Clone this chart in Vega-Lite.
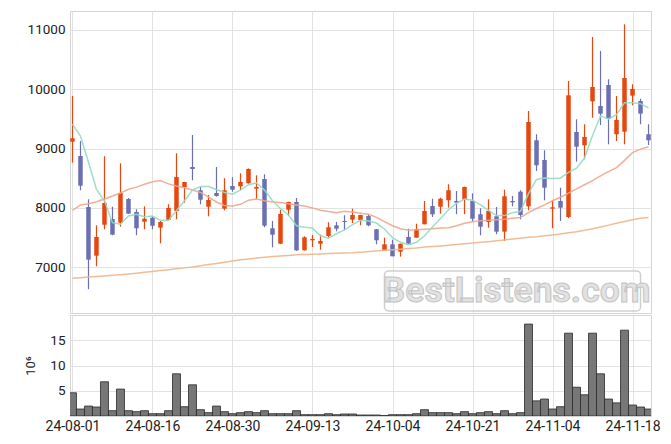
{
  "$schema": "https://vega.github.io/schema/vega-lite/v6.json",
  "background": "white",
  "padding": {"left": 24, "top": 10, "right": 17, "bottom": 0},
  "config": {
    "font": "Roboto",
    "view": {"stroke": "#d4d4d4"},
    "axis": {"labelFont": "Roboto", "labelColor": "#222222", "gridColor": "#e2e2e2", "domain": false, "ticks": false, "titleFont": "Roboto"},
    "concat": {"spacing": 0}
  },
  "datasets": {
    "wm": [{"t": "BestListens.com"}],
    "k": [
      {"d":"24-08-01","o":9115,"h":9885,"l":8762,"c":9172,"v":4.6,"m5":9408,"m20":7960,"m60":6815},
      {"d":"24-08-02","o":8874,"h":9127,"l":8297,"c":8374,"v":1.38,"m5":9211,"m20":8049,"m60":6825},
      {"d":"24-08-05","o":8015,"h":8145,"l":6630,"c":7128,"v":1.97,"m5":8770,"m20":8070,"m60":6835},
      {"d":"24-08-06","o":7195,"h":7707,"l":7017,"c":7510,"v":1.78,"m5":8313,"m20":8105,"m60":6845},
      {"d":"24-08-07","o":7717,"h":8869,"l":7640,"c":8083,"v":6.78,"m5":8120,"m20":8150,"m60":6855},
      {"d":"24-08-08","o":7813,"h":8020,"l":7540,"c":7549,"v":1.05,"m5":7751,"m20":8201,"m60":6865},
      {"d":"24-08-09","o":7751,"h":8751,"l":7684,"c":8251,"v":5.33,"m5":7724,"m20":8250,"m60":6875},
      {"d":"24-08-12","o":8150,"h":8167,"l":7900,"c":7903,"v":1.05,"m5":7864,"m20":8313,"m60":6885},
      {"d":"24-08-13","o":7931,"h":7977,"l":7539,"c":7657,"v":0.86,"m5":7892,"m20":8350,"m60":6900},
      {"d":"24-08-14","o":7768,"h":8027,"l":7640,"c":7818,"v":1.05,"m5":7850,"m20":8398,"m60":6915},
      {"d":"24-08-16","o":7835,"h":7863,"l":7640,"c":7700,"v":0.46,"m5":7864,"m20":8440,"m60":6930},
      {"d":"24-08-19","o":7667,"h":7780,"l":7404,"c":7763,"v":0.46,"m5":7791,"m20":8460,"m60":6945},
      {"d":"24-08-20","o":7797,"h":8061,"l":7790,"c":7999,"v":1.05,"m5":7790,"m20":8405,"m60":6960},
      {"d":"24-08-21","o":7948,"h":8920,"l":7808,"c":8521,"v":8.36,"m5":7955,"m20":8370,"m60":6975},
      {"d":"24-08-22","o":8352,"h":8440,"l":8088,"c":8436,"v":1.84,"m5":8120,"m20":8340,"m60":6990},
      {"d":"24-08-23","o":8689,"h":9228,"l":8465,"c":8655,"v":6.18,"m5":8300,"m20":8300,"m60":7005},
      {"d":"24-08-26","o":8297,"h":8352,"l":8061,"c":8138,"v":1.25,"m5":8360,"m20":8260,"m60":7025},
      {"d":"24-08-27","o":8020,"h":8218,"l":7859,"c":8133,"v":0.66,"m5":8360,"m20":8180,"m60":7045},
      {"d":"24-08-28","o":8251,"h":8689,"l":8190,"c":8201,"v":1.97,"m5":8310,"m20":8100,"m60":7065},
      {"d":"24-08-29","o":7987,"h":8499,"l":7960,"c":8297,"v":0.86,"m5":8260,"m20":8040,"m60":7085},
      {"d":"24-08-30","o":8369,"h":8516,"l":8273,"c":8307,"v":0.46,"m5":8230,"m20":8032,"m60":7105},
      {"d":"24-09-02","o":8364,"h":8583,"l":8297,"c":8436,"v":0.66,"m5":8300,"m20":8060,"m60":7125},
      {"d":"24-09-03","o":8415,"h":8665,"l":8410,"c":8655,"v":0.86,"m5":8390,"m20":8130,"m60":7140},
      {"d":"24-09-04","o":8324,"h":8549,"l":8155,"c":8352,"v":0.66,"m5":8420,"m20":8150,"m60":7155},
      {"d":"24-09-05","o":8487,"h":8566,"l":7674,"c":7701,"v":1.05,"m5":8300,"m20":8120,"m60":7170},
      {"d":"24-09-06","o":7657,"h":7780,"l":7337,"c":7549,"v":0.46,"m5":8120,"m20":8100,"m60":7180},
      {"d":"24-09-09","o":7397,"h":7970,"l":7390,"c":7898,"v":0.46,"m5":7990,"m20":8090,"m60":7190},
      {"d":"24-09-10","o":7970,"h":8105,"l":7864,"c":8100,"v":0.46,"m5":7880,"m20":8070,"m60":7200},
      {"d":"24-09-11","o":8100,"h":8167,"l":7275,"c":7286,"v":1.05,"m5":7700,"m20":8050,"m60":7210},
      {"d":"24-09-12","o":7286,"h":7522,"l":7280,"c":7505,"v":0.26,"m5":7675,"m20":8032,"m60":7215},
      {"d":"24-09-13","o":7455,"h":7544,"l":7342,"c":7477,"v":0.26,"m5":7660,"m20":8000,"m60":7220},
      {"d":"24-09-19","o":7397,"h":7549,"l":7296,"c":7443,"v":0.26,"m5":7530,"m20":7960,"m60":7225},
      {"d":"24-09-20","o":7527,"h":7758,"l":7499,"c":7674,"v":0.46,"m5":7490,"m20":7940,"m60":7230},
      {"d":"24-09-23","o":7707,"h":7764,"l":7606,"c":7650,"v":0.26,"m5":7565,"m20":7920,"m60":7236},
      {"d":"24-09-24","o":7780,"h":7876,"l":7623,"c":7763,"v":0.4,"m5":7630,"m20":7945,"m60":7240},
      {"d":"24-09-25","o":7802,"h":7987,"l":7746,"c":7881,"v":0.4,"m5":7720,"m20":7930,"m60":7245},
      {"d":"24-09-26","o":7797,"h":7885,"l":7707,"c":7881,"v":0.2,"m5":7790,"m20":7910,"m60":7255},
      {"d":"24-09-27","o":7864,"h":7892,"l":7690,"c":7707,"v":0.2,"m5":7780,"m20":7892,"m60":7265},
      {"d":"24-09-30","o":7640,"h":7645,"l":7387,"c":7455,"v":0.2,"m5":7745,"m20":7840,"m60":7275},
      {"d":"24-10-02","o":7280,"h":7499,"l":7275,"c":7387,"v":0.1,"m5":7640,"m20":7770,"m60":7285},
      {"d":"24-10-04","o":7387,"h":7465,"l":7185,"c":7185,"v":0.26,"m5":7500,"m20":7700,"m60":7295},
      {"d":"24-10-07","o":7263,"h":7397,"l":7180,"c":7397,"v":0.26,"m5":7420,"m20":7650,"m60":7305},
      {"d":"24-10-08","o":7510,"h":7650,"l":7397,"c":7397,"v":0.26,"m5":7380,"m20":7623,"m60":7315},
      {"d":"24-10-10","o":7499,"h":7734,"l":7499,"c":7640,"v":0.46,"m5":7420,"m20":7630,"m60":7325},
      {"d":"24-10-11","o":7724,"h":8116,"l":7724,"c":7948,"v":1.25,"m5":7530,"m20":7640,"m60":7340},
      {"d":"24-10-14","o":8032,"h":8155,"l":7847,"c":7892,"v":0.66,"m5":7680,"m20":7650,"m60":7350},
      {"d":"24-10-15","o":8020,"h":8172,"l":7903,"c":8155,"v":0.66,"m5":7820,"m20":7660,"m60":7360},
      {"d":"24-10-16","o":8128,"h":8398,"l":8004,"c":8297,"v":0.66,"m5":7970,"m20":7667,"m60":7372},
      {"d":"24-10-17","o":8116,"h":8285,"l":7893,"c":8088,"v":0.46,"m5":8075,"m20":7700,"m60":7385},
      {"d":"24-10-18","o":8138,"h":8360,"l":7893,"c":8352,"v":0.86,"m5":8150,"m20":7740,"m60":7398},
      {"d":"24-10-21","o":8116,"h":8246,"l":7780,"c":7818,"v":0.46,"m5":8130,"m20":7765,"m60":7410},
      {"d":"24-10-22","o":7893,"h":7994,"l":7539,"c":7684,"v":0.66,"m5":8050,"m20":7785,"m60":7420},
      {"d":"24-10-23","o":7763,"h":8145,"l":7667,"c":7948,"v":0.86,"m5":7960,"m20":7791,"m60":7431},
      {"d":"24-10-24","o":7859,"h":8015,"l":7556,"c":7600,"v":0.46,"m5":7870,"m20":7800,"m60":7445},
      {"d":"24-10-25","o":7600,"h":8307,"l":7443,"c":8196,"v":1.05,"m5":7870,"m20":7810,"m60":7460},
      {"d":"24-10-28","o":8116,"h":8201,"l":8027,"c":8094,"v":0.46,"m5":7920,"m20":7825,"m60":7475},
      {"d":"24-10-29","o":8273,"h":8297,"l":7808,"c":7881,"v":0.66,"m5":7944,"m20":7840,"m60":7490},
      {"d":"24-10-30","o":8027,"h":9632,"l":7960,"c":9447,"v":18.2,"m5":8240,"m20":7920,"m60":7505},
      {"d":"24-10-31","o":9139,"h":9240,"l":8622,"c":8718,"v":3.0,"m5":8480,"m20":7990,"m60":7515},
      {"d":"24-11-01","o":8807,"h":8970,"l":8128,"c":8340,"v":3.36,"m5":8505,"m20":8050,"m60":7530},
      {"d":"24-11-04","o":7987,"h":8128,"l":7657,"c":8010,"v":1.38,"m5":8495,"m20":8120,"m60":7544},
      {"d":"24-11-05","o":8116,"h":8340,"l":7780,"c":8004,"v":1.84,"m5":8505,"m20":8180,"m60":7560},
      {"d":"24-11-06","o":7847,"h":10137,"l":7825,"c":9896,"v":16.4,"m5":8600,"m20":8250,"m60":7580},
      {"d":"24-11-07","o":9278,"h":9492,"l":8778,"c":9031,"v":5.7,"m5":8670,"m20":8320,"m60":7600},
      {"d":"24-11-08","o":9054,"h":9408,"l":8819,"c":9194,"v":4.2,"m5":8840,"m20":8390,"m60":7625},
      {"d":"24-11-11","o":9795,"h":10878,"l":9519,"c":10036,"v":16.4,"m5":9220,"m20":8460,"m60":7650},
      {"d":"24-11-12","o":9716,"h":10643,"l":9396,"c":9587,"v":8.36,"m5":9550,"m20":8538,"m60":7680},
      {"d":"24-11-13","o":10070,"h":10166,"l":9071,"c":9502,"v":3.36,"m5":9500,"m20":8610,"m60":7710},
      {"d":"24-11-14","o":9240,"h":9885,"l":9127,"c":9481,"v":2.6,"m5":9570,"m20":8678,"m60":7740},
      {"d":"24-11-15","o":9284,"h":11092,"l":9071,"c":10188,"v":17.0,"m5":9770,"m20":8800,"m60":7770},
      {"d":"24-11-18","o":9890,"h":10082,"l":9728,"c":10003,"v":2.17,"m5":9770,"m20":8930,"m60":7800},
      {"d":"24-11-19","o":9800,"h":9839,"l":9408,"c":9587,"v":1.78,"m5":9755,"m20":8990,"m60":7825},
      {"d":"24-11-20","o":9240,"h":9408,"l":9059,"c":9139,"v":1.38,"m5":9685,"m20":9030,"m60":7840}
    ]
  },
  "vconcat": [
    {
      "width": 581,
      "height": 302,
      "data": {"name": "k"},
      "encoding": {
        "x": {"field": "d", "type": "ordinal",
              "scale": {"type": "point", "padding": 0.31, "domain": ["24-08-01","24-08-02","24-08-05","24-08-06","24-08-07","24-08-08","24-08-09","24-08-12","24-08-13","24-08-14","24-08-16","24-08-19","24-08-20","24-08-21","24-08-22","24-08-23","24-08-26","24-08-27","24-08-28","24-08-29","24-08-30","24-09-02","24-09-03","24-09-04","24-09-05","24-09-06","24-09-09","24-09-10","24-09-11","24-09-12","24-09-13","24-09-19","24-09-20","24-09-23","24-09-24","24-09-25","24-09-26","24-09-27","24-09-30","24-10-02","24-10-04","24-10-07","24-10-08","24-10-10","24-10-11","24-10-14","24-10-15","24-10-16","24-10-17","24-10-18","24-10-21","24-10-22","24-10-23","24-10-24","24-10-25","24-10-28","24-10-29","24-10-30","24-10-31","24-11-01","24-11-04","24-11-05","24-11-06","24-11-07","24-11-08","24-11-11","24-11-12","24-11-13","24-11-14","24-11-15","24-11-18","24-11-19","24-11-20"]},
              "axis": {"values": ["24-08-01","24-08-16","24-08-30","24-09-13","24-10-04","24-10-21","24-11-04","24-11-18"], "labels": false, "title": null, "grid": true, "labelPadding": 0, "minExtent": 0, "maxExtent": 0}}
      },
      "layer": [
        {
          "mark": {"type": "rule", "strokeWidth": 1.2},
          "encoding": {
            "y": {"field": "l", "type": "quantitative", "scale": {"domain": [6230, 11316], "nice": false, "zero": false},
                  "axis": {"values": [7000, 8000, 9000, 10000, 11000], "format": "d", "title": null, "labelPadding": 5, "labelFontSize": 13.5}},
            "y2": {"field": "h"},
            "color": {"condition": {"test": "datum.c >= datum.o", "value": "#e6460f"}, "value": "#6b6fb3"}
          }
        },
        {
          "mark": {"type": "bar", "size": 4.5},
          "encoding": {
            "y": {"field": "o", "type": "quantitative", "scale": {"domain": [6230, 11316], "nice": false, "zero": false}, "title": null},
            "y2": {"field": "c"},
            "color": {"condition": {"test": "datum.c >= datum.o", "value": "#e6460f"}, "value": "#6b6fb3"}
          }
        },
        {
          "mark": {"type": "line", "color": "#f0b58a", "strokeWidth": 1.5, "opacity": 0.9},
          "encoding": {"y": {"field": "m60", "type": "quantitative", "scale": {"domain": [6230, 11316], "nice": false, "zero": false}, "title": null}}
        },
        {
          "mark": {"type": "line", "color": "#efa68c", "strokeWidth": 1.5, "opacity": 0.9},
          "encoding": {"y": {"field": "m20", "type": "quantitative", "scale": {"domain": [6230, 11316], "nice": false, "zero": false}, "title": null}}
        },
        {
          "mark": {"type": "line", "color": "#93dcc0", "strokeWidth": 1.5, "opacity": 0.9},
          "encoding": {"y": {"field": "m5", "type": "quantitative", "scale": {"domain": [6230, 11316], "nice": false, "zero": false}, "title": null}}
        },
        {
          "data": {"name": "wm"},
          "mark": {"type": "rect", "cornerRadius": 4, "fill": "white", "fillOpacity": 0.5, "stroke": "#cfcfcf", "strokeWidth": 1.5},
          "encoding": {
            "x": {"datum": "24-10-02"}, "x2": {"datum": "24-11-19"},
            "y": {"datum": 6938, "type": "quantitative", "scale": {"domain": [6230, 11316], "nice": false, "zero": false}, "title": null},
            "y2": {"datum": 6264}
          }
        },
        {
          "data": {"name": "wm"},
          "mark": {"type": "text", "font": "Roboto", "fontSize": 35.5, "fontWeight": "bold", "fill": "#e2e2e2", "stroke": "#c4c4c4", "strokeWidth": 1, "baseline": "middle", "align": "center", "dx": 4},
          "encoding": {
            "text": {"field": "t"},
            "x": {"datum": "24-10-28"},
            "y": {"datum": 6601, "type": "quantitative", "scale": {"domain": [6230, 11316], "nice": false, "zero": false}, "title": null}
          }
        }
      ]
    },
    {
      "width": 581,
      "height": 101,
      "data": {"name": "k"},
      "mark": {"type": "bar", "size": 8, "fill": "#777777", "stroke": "#2a2a2a", "strokeWidth": 0.8, "clip": true},
      "encoding": {
        "x": {"field": "d", "type": "ordinal",
              "scale": {"type": "point", "padding": 0.31, "domain": ["24-08-01","24-08-02","24-08-05","24-08-06","24-08-07","24-08-08","24-08-09","24-08-12","24-08-13","24-08-14","24-08-16","24-08-19","24-08-20","24-08-21","24-08-22","24-08-23","24-08-26","24-08-27","24-08-28","24-08-29","24-08-30","24-09-02","24-09-03","24-09-04","24-09-05","24-09-06","24-09-09","24-09-10","24-09-11","24-09-12","24-09-13","24-09-19","24-09-20","24-09-23","24-09-24","24-09-25","24-09-26","24-09-27","24-09-30","24-10-02","24-10-04","24-10-07","24-10-08","24-10-10","24-10-11","24-10-14","24-10-15","24-10-16","24-10-17","24-10-18","24-10-21","24-10-22","24-10-23","24-10-24","24-10-25","24-10-28","24-10-29","24-10-30","24-10-31","24-11-01","24-11-04","24-11-05","24-11-06","24-11-07","24-11-08","24-11-11","24-11-12","24-11-13","24-11-14","24-11-15","24-11-18","24-11-19","24-11-20"]},
              "axis": {"values": ["24-08-01","24-08-16","24-08-30","24-09-13","24-10-04","24-10-21","24-11-04","24-11-18"], "labelAngle": 0, "labelFontSize": 14, "labelPadding": 3, "title": null, "grid": true}},
        "y": {"field": "v", "type": "quantitative", "scale": {"domain": [0, 20], "nice": false},
              "axis": {"values": [5, 10, 15], "title": "10⁶", "titleFontSize": 13, "titleFontWeight": "normal", "titleColor": "#222222", "titlePadding": 12, "labelPadding": 5, "labelFontSize": 13.5}}
      }
    }
  ]
}
